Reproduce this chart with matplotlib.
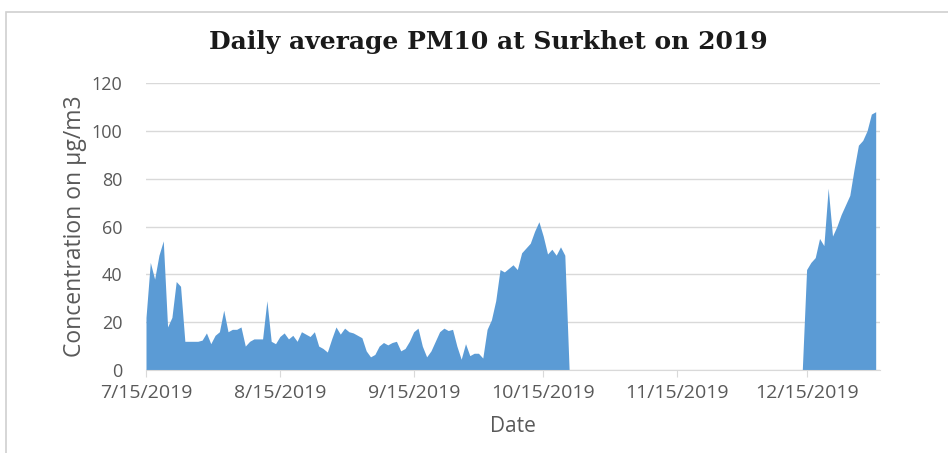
import matplotlib
matplotlib.use("Agg")
import matplotlib.pyplot as plt
import numpy as np
import pandas as pd
from matplotlib.patches import Rectangle

# Segment 1: daily values from 7/15/2019 (last point 0 where data stops)
seg1_start = "2019-07-15"
seg1_values = [22, 45, 38, 48, 54, 18, 22, 37, 35, 12,
               12, 12, 12, 12.5, 15.5, 11, 14.5, 16, 25, 16,
               17, 17, 18, 10, 12, 13, 13, 13, 29, 12,
               11, 14, 15.5, 13, 14.5, 12, 16, 15, 14, 16,
               10, 9, 7.5, 13, 18, 15, 17.5, 16, 15.5, 14.5,
               13.5, 8, 5.5, 6.5, 10, 11.5, 10.5, 11.5, 12, 8,
               9, 12, 16, 17.5, 10, 5.5, 8, 12, 16, 17.5,
               16.5, 17, 10, 4.5, 11, 6, 7, 7, 5, 17,
               21, 29, 42, 41, 42.5, 44, 42, 49, 51, 53,
               58, 62, 56, 48.5, 50.5, 48, 51.5, 48, 0]

# Segment 2: daily values from 12/14/2019
seg2_start = "2019-12-14"
seg2_values = [0, 42, 45, 47, 55, 52, 76, 56, 60, 65,
               69, 73, 84, 94, 96, 100, 107, 108]

tick_dates = ["2019-07-15", "2019-08-15", "2019-09-15",
              "2019-10-15", "2019-11-15", "2019-12-15"]
tick_labels = ["7/15/2019", "8/15/2019", "9/15/2019",
               "10/15/2019", "11/15/2019", "12/15/2019"]
y_ticks = [0, 20, 40, 60, 80, 100, 120]

fill_color = "#5B9BD5"
grid_color = "#D9D9D9"
text_color = "#595959"

fig = plt.figure(figsize=(9.48, 4.53), dpi=100)
ax = fig.add_axes([146/948, (453-370)/453, (880-146)/948, (370-83)/453])

for start, vals in [(seg1_start, seg1_values), (seg2_start, seg2_values)]:
    d = pd.date_range(start, periods=len(vals), freq="D")
    ax.fill_between(d, 0, vals, color=fill_color, linewidth=0, zorder=3)

ax.set_xlim(pd.Timestamp("2019-07-15"), pd.Timestamp("2020-01-01"))
ax.set_ylim(0, 120)
ax.set_yticks(y_ticks)
ax.set_yticklabels([str(v) for v in y_ticks])
ax.set_xticks(pd.to_datetime(tick_dates))
ax.set_xticklabels(tick_labels)

ax.grid(axis="y", color=grid_color, linewidth=1, zorder=0)
for s in ["top", "right", "left"]:
    ax.spines[s].set_visible(False)
ax.spines["bottom"].set_color(grid_color)
ax.spines["bottom"].set_zorder(4)
ax.tick_params(axis="y", length=0, pad=17, labelsize=13, labelcolor=text_color)
ax.tick_params(axis="x", length=5, color=grid_color, pad=5, labelsize=14, labelcolor=text_color)
for lab in ax.get_xticklabels() + ax.get_yticklabels():
    lab.set_fontfamily("Open Sans")

ax.set_ylabel("Concentration on µg/m3", fontsize=16.5, color=text_color,
              family="Open Sans", labelpad=3)
ax.set_xlabel("Date", fontsize=15, color=text_color, family="Open Sans", labelpad=10)

fig.text(0.515, 0.908, "Daily average PM10 at Surkhet on 2019", ha="center", va="center",
         fontsize=18, fontweight="bold", family="DejaVu Serif", color="#1a1a1a")

fig.patches.append(Rectangle((6/948, -0.01), 1.0, (453-12)/453 + 0.01, transform=fig.transFigure,
                             fill=False, edgecolor="#D0D0D0", linewidth=1.2))

fig.savefig("out.png", dpi=100)
